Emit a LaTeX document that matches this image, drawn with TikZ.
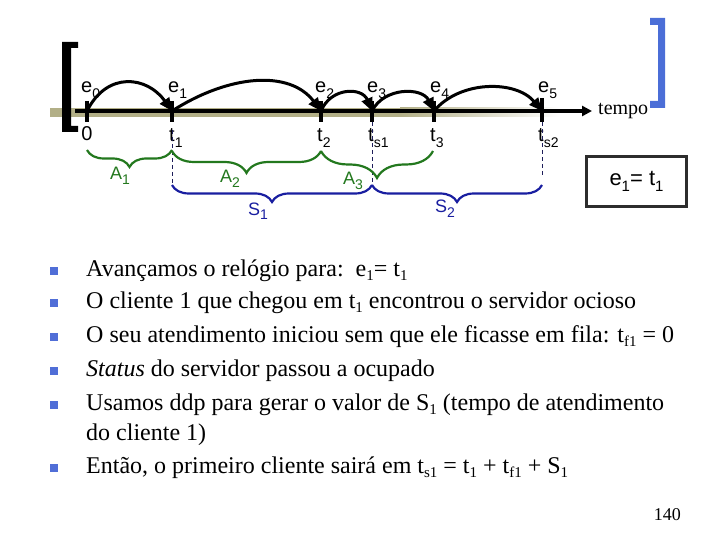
\documentclass[tikz,border=0pt]{standalone}
\usepackage{fontspec}
\setmainfont{Liberation Serif}
\newfontfamily\arialf{Liberation Sans}
\usetikzlibrary{arrows.meta,decorations.pathreplacing}
\definecolor{grn}{RGB}{35,120,30}
\definecolor{nvy}{RGB}{25,30,160}
\definecolor{dnv}{RGB}{30,30,90}
\definecolor{blt}{RGB}{80,110,215}
\definecolor{brk}{RGB}{75,110,215}
\definecolor{olv}{RGB}{178,175,135}
\definecolor{dbox}{RGB}{45,45,45}
\newcommand\lsub[1]{\raisebox{-0.27em}{\fontsize{14}{14}\selectfont #1}}
\newcommand\bsub[1]{\raisebox{-0.2em}{\fontsize{15}{15}\selectfont #1}}
\tikzset{
  elab/.style={inner sep=0pt, font=\arialf\fontsize{20}{20}\selectfont},
  blab/.style={inner sep=0pt, font=\arialf\fontsize{18}{18}\selectfont},
  btxt/.style={inner sep=0pt, anchor=base west, font=\fontsize{24}{28}\selectfont},
  tickln/.style={line width=3.5pt},
  arcln/.style={line width=3pt, -{Triangle[length=13pt,width=11pt]}},
  gbrace/.style={grn, line width=2.2pt, decorate, decoration={brace, mirror, amplitude=#1}},
  nbrace/.style={nvy, line width=2.2pt, decorate, decoration={brace, mirror, amplitude=#1}},
  dline/.style={dnv, line width=0.8pt, dash pattern=on 4pt off 3pt},
  bul/.style={fill=blt},
}
\begin{document}
\begin{tikzpicture}[x=1pt,y=-1pt]
\useasboundingbox (0,0) rectangle (720,540);
% olive band
\fill[olv] (50,108) rectangle (400,117);
\shade[left color=olv, right color=white] (400,108) rectangle (560,117);
% brackets
\fill[black] (62,42) -- (78,42) -- (78,48) -- (71,48) -- (71,126) -- (78,126) -- (78,132) -- (62,132) -- cycle;
\fill[brk] (650,18) -- (665,18) -- (665,108) -- (650,108) -- (650,101) -- (658,101) -- (658,25) -- (650,25) -- cycle;
% timeline
\coordinate (L) at (75,111);
\coordinate (R) at (592,111);
\coordinate (p0) at (87,111);
\coordinate (p1) at (172,111);
\coordinate (p2) at (321,111);
\coordinate (p3) at (372,111);
\coordinate (p4) at (434,111);
\coordinate (p5) at (542,111);
\draw[line width=3.5pt, -{Triangle[length=10pt,width=10pt]}] (L) -- (R);
\foreach \p in {p0,p1,p2,p3,p4}{\draw[tickln] (\p) ++(0,-10) -- ++(0,21);}
\draw[tickln] (p5) ++(0,-13) -- ++(0,24);
% arcs
\draw[arcln] (p0) .. controls (107,71) and (147,76) .. (p1);
\draw[arcln] (p1) .. controls (230,74) and (290,70) .. (p2);
\draw[arcln] (p2) .. controls (331,87) and (362,87) .. (p3);
\draw[arcln] (p3) .. controls (384,87) and (422,87) .. (p4);
\draw[arcln] (p4) .. controls (460,80) and (516,80) .. (p5);
% e labels
\node[elab, anchor=base west] (e0) at (81,93) {e\lsub{0}};
\node[elab, anchor=base west] (e1) at (168,93) {e\lsub{1}};
\node[elab, anchor=base west] (e2) at (315,93) {e\lsub{2}};
\node[elab, anchor=base west] (e3) at (367,93) {e\lsub{3}};
\node[elab, anchor=base west] (e4) at (430,93) {e\lsub{4}};
\node[elab, anchor=base west] (e5) at (538,93) {e\lsub{5}};
\node[inner sep=0pt, anchor=base west, font=\fontsize{20}{20}\selectfont] (tempo) at (598,115) {tempo};
% t labels
\node[elab, anchor=base] (t0) at (87,141) {0};
\node[elab, anchor=base west] (t1) at (169,142) {t\lsub{1}};
\node[elab, anchor=base west] (t2) at (317,142) {t\lsub{2}};
\node[elab, anchor=base west] (ts1) at (368,142) {t\lsub{s1}};
\node[elab, anchor=base west] (t3) at (430,142) {t\lsub{3}};
\node[elab, anchor=base west] (ts2) at (538,142) {t\lsub{s2}};
% dashed lines
\coordinate (d1a) at (172,130); \coordinate (d1b) at (172,186);
\coordinate (d2a) at (372,122); \coordinate (d2b) at (372,186);
\coordinate (d3a) at (542,122); \coordinate (d3b) at (542,176);
\draw[dline] (d1a) -- (d1b);
\draw[dline] (d2a) -- (d2b);
\draw[dline] (d3a) -- (d3b);
% braces
\draw[gbrace=17pt] (87,150) -- (172,150);
\draw[gbrace=22pt] (172,151) -- (321,151);
\draw[gbrace=27pt] (321,151) -- (433,151);
\draw[nbrace=17pt] (172,185) -- (372,185);
\draw[nbrace=17pt] (372,185) -- (542,185);
\node[blab, grn, anchor=base west] (A1) at (110,180) {A\lsub{1}};
\node[blab, grn, anchor=base west] (A2) at (220,183) {A\lsub{2}};
\node[blab, grn, anchor=base west] (A3) at (343,185) {A\lsub{3}};
\node[blab, nvy, anchor=base west] (S1) at (248,215) {S\lsub{1}};
\node[blab, nvy, anchor=base west] (S2) at (435,213) {S\lsub{2}};
% box
\node[draw=dbox, line width=3.5pt, minimum width=100pt, minimum height=50pt, inner sep=0pt, font=\arialf\fontsize{22}{22}\selectfont] (box) at (636.5,181.5) {e\raisebox{-0.25em}{\fontsize{15}{15}\selectfont 1}= t\raisebox{-0.25em}{\fontsize{15}{15}\selectfont 1}};
% bullets
\foreach \yy in {271,303,337,371,405,468}{\fill[bul] (50,\yy-4) rectangle (58,\yy+4);}
\node[btxt] (l1) at (86,276) {Avançamos o relógio para:\ \ e\bsub{1}= t\bsub{1}};
\node[btxt] (l2) at (86,308) {O cliente 1 que chegou em t\bsub{1} encontrou o servidor ocioso};
\node[btxt] (l3) at (86,342) {O seu atendimento iniciou sem que ele ficasse em fila: t\bsub{f1} = 0};
\node[btxt] (l4) at (86,376) {\textit{Status} do servidor passou a ocupado};
\node[btxt] (l5) at (86,410) {Usamos ddp para gerar o valor de S\bsub{1} (tempo de atendimento};
\node[btxt] (l5b) at (86,440) {do cliente 1)};
\node[btxt] (l6) at (86,473) {Então, o primeiro cliente sairá em t\bsub{s1} = t\bsub{1} + t\bsub{f1} + S\bsub{1}};
\node[inner sep=0pt, anchor=base east, font=\fontsize{18}{18}\selectfont] (pg) at (681,520) {140};
\end{tikzpicture}
\end{document}
